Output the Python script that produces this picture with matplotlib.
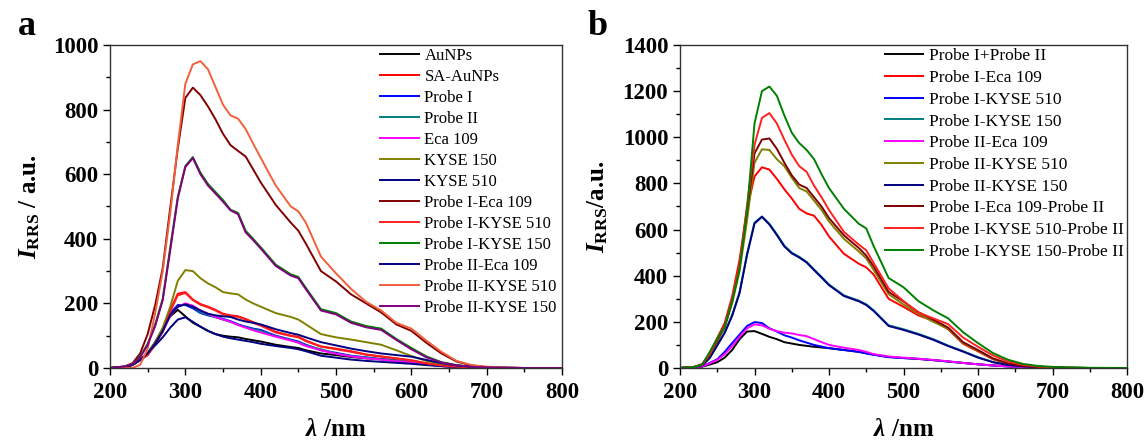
import numpy as np
import matplotlib
matplotlib.use('Agg')
import matplotlib.pyplot as plt
from matplotlib.ticker import MultipleLocator

plt.rcParams['font.family'] = ['Liberation Serif', 'DejaVu Serif']
plt.rcParams['mathtext.fontset'] = 'custom'
plt.rcParams['mathtext.rm'] = 'Liberation Serif:bold'
plt.rcParams['mathtext.it'] = 'Liberation Serif:italic:bold'
plt.rcParams['mathtext.bf'] = 'Liberation Serif:bold'

# wavelength grid (nm), shared by all spectra
wl = [200, 220, 230, 240, 250, 260, 270, 280, 290, 300, 310, 320, 330, 340, 350, 360, 370, 380, 390, 400,
      420, 440, 450, 460, 480, 500, 520, 540, 560, 580, 600, 620, 640, 660, 680, 700, 720, 750, 800]

# ---- panel a ----
a_AuNPs = [0, 3, 10, 25, 45, 80, 120, 160, 180, 160, 140, 128, 115, 105, 100, 97, 95, 90, 86, 82,
           72, 65, 62, 55, 45, 40, 34, 30, 27, 22, 17, 11, 6, 3, 2, 1, 0, 0, 0]
a_SA_AuNPs = [0, 3, 10, 25, 40, 75, 115, 179, 230, 235, 212, 198, 190, 180, 168, 163, 160, 152, 142, 133,
              112, 100, 97, 85, 67, 60, 52, 42, 36, 30, 24, 15, 8, 4, 2, 1, 0, 0, 0]
a_ProbeI = [0, 3, 10, 25, 45, 80, 120, 170, 195, 195, 185, 170, 163, 158, 152, 145, 135, 128, 122, 118,
            100, 88, 82, 72, 55, 47, 38, 33, 28, 24, 20, 13, 7, 4, 2, 1, 0, 0, 0]
a_ProbeII = [0, 3, 10, 24, 42, 76, 115, 165, 190, 198, 190, 172, 165, 157, 150, 143, 134, 126, 120, 115,
             98, 87, 80, 70, 58, 45, 37, 32, 27, 23, 19, 12, 7, 4, 2, 1, 0, 0, 0]
a_Eca109 = [0, 3, 10, 24, 42, 75, 112, 162, 190, 200, 193, 178, 168, 158, 150, 143, 133, 125, 117, 110,
            97, 85, 78, 68, 55, 44, 36, 30, 26, 21, 17, 11, 6, 3, 2, 1, 0, 0, 0]
a_KYSE150 = [0, 3, 10, 25, 46, 80, 125, 190, 270, 303, 300, 278, 262, 250, 235, 231, 228, 212, 200, 190,
             170, 158, 150, 135, 105, 95, 88, 80, 72, 55, 37, 22, 12, 6, 3, 1, 0, 0, 0]
a_KYSE510 = [0, 3, 10, 25, 45, 70, 95, 125, 150, 157, 143, 128, 115, 105, 97, 92, 88, 84, 80, 75,
             68, 62, 58, 52, 38, 32, 26, 22, 19, 16, 13, 9, 6, 3, 2, 1, 0, 0, 0]
a_PI_Eca109 = [0, 5, 15, 45, 105, 195, 310, 497, 680, 836, 868, 845, 810, 770, 725, 690, 672, 655, 615, 575,
               505, 450, 425, 385, 300, 268, 228, 200, 172, 135, 115, 78, 45, 20, 8, 3, 1, 0, 0]
a_PI_KYSE510 = [0, 3, 10, 25, 40, 75, 112, 175, 225, 232, 210, 196, 188, 178, 166, 161, 158, 150, 140, 131,
                110, 99, 95, 83, 66, 58, 50, 41, 35, 29, 23, 14, 8, 4, 2, 1, 0, 0, 0]
a_PI_KYSE150 = [0, 5, 12, 35, 75, 135, 215, 374, 530, 625, 653, 605, 570, 545, 520, 490, 480, 425, 400, 374,
                320, 290, 282, 248, 182, 170, 144, 130, 122, 90, 62, 36, 18, 9, 4, 2, 1, 0, 0]
a_PII_Eca109 = [0, 3, 10, 25, 45, 75, 115, 165, 190, 197, 190, 178, 168, 163, 160, 158, 150, 144, 140, 135,
                120, 108, 103, 95, 80, 70, 60, 52, 45, 40, 35, 25, 15, 8, 4, 2, 1, 0, 0]
a_PII_KYSE510 = [0, 0, 0, 10, 60, 170, 300, 480, 690, 880, 940, 950, 925, 870, 815, 782, 772, 740, 695, 651,
                 565, 500, 485, 450, 345, 293, 245, 205, 178, 140, 122, 85, 50, 22, 9, 4, 2, 0, 0]
a_PII_KYSE150 = [0, 5, 12, 33, 72, 130, 210, 365, 525, 622, 650, 600, 565, 540, 515, 488, 476, 420, 396, 370,
                 316, 286, 278, 244, 178, 166, 140, 126, 118, 87, 58, 33, 17, 8, 4, 2, 1, 0, 0]

a_series = [
    ('AuNPs', a_AuNPs, '#000000'),
    ('SA-AuNPs', a_SA_AuNPs, '#ff0000'),
    ('Probe I', a_ProbeI, '#0000ff'),
    ('Probe II', a_ProbeII, '#008080'),
    ('Eca 109', a_Eca109, '#ff00ff'),
    ('KYSE 150', a_KYSE150, '#808000'),
    ('KYSE 510', a_KYSE510, '#000080'),
    ('Probe I-Eca 109', a_PI_Eca109, '#800000'),
    ('Probe I-KYSE 510', a_PI_KYSE510, '#ff2020'),
    ('Probe I-KYSE 150', a_PI_KYSE150, '#008000'),
    ('Probe II-Eca 109', a_PII_Eca109, '#000080'),
    ('Probe II-KYSE 510', a_PII_KYSE510, '#f0603c'),
    ('Probe II-KYSE 150', a_PII_KYSE150, '#800080'),
]

# ---- panel b ----
b_PI_PII = [0, 3, 6, 15, 25, 45, 78, 125, 158, 160, 148, 135, 125, 112, 106, 100, 96, 92, 89, 86,
            78, 70, 64, 58, 48, 43, 39, 34, 28, 22, 16, 11, 7, 4, 2, 1, 0, 0, 0]
b_PI_Eca109 = [0, 5, 18, 65, 130, 195, 310, 470, 690, 830, 870, 860, 820, 775, 735, 690, 670, 660, 620, 570,
               495, 452, 436, 405, 300, 265, 228, 205, 168, 105, 72, 38, 18, 8, 4, 2, 1, 0, 0]
b_PI_KYSE510 = [0, 3, 8, 22, 38, 70, 108, 145, 182, 199, 195, 172, 158, 142, 132, 120, 110, 100, 93, 86,
                78, 70, 63, 57, 47, 43, 40, 34, 28, 22, 16, 11, 7, 4, 2, 1, 0, 0, 0]
b_PI_KYSE150 = [0, 5, 12, 45, 100, 155, 230, 330, 495, 630, 657, 625, 580, 530, 500, 482, 460, 427, 395, 362,
                315, 292, 276, 250, 185, 168, 148, 125, 97, 73, 47, 26, 14, 8, 4, 2, 1, 0, 0]
b_PII_Eca109 = [0, 3, 8, 20, 35, 60, 95, 135, 172, 189, 185, 170, 160, 153, 150, 143, 138, 125, 112, 100,
                88, 78, 70, 60, 50, 45, 40, 35, 29, 22, 16, 11, 7, 4, 2, 1, 0, 0, 0]
b_PII_KYSE510 = [0, 5, 15, 55, 115, 175, 280, 420, 640, 890, 948, 945, 905, 875, 825, 780, 765, 725, 685, 635,
                 560, 505, 475, 425, 320, 275, 235, 200, 170, 108, 75, 40, 19, 9, 4, 2, 1, 0, 0]
b_PII_KYSE150 = [0, 5, 12, 44, 98, 152, 226, 325, 490, 626, 655, 622, 576, 527, 497, 479, 457, 424, 392, 359,
                 312, 289, 273, 247, 182, 165, 145, 122, 95, 71, 45, 25, 13, 7, 3, 1, 0, 0, 0]
b_PI_Eca109_PII = [0, 5, 15, 60, 120, 180, 290, 440, 680, 930, 990, 995, 950, 890, 835, 795, 780, 740, 700, 650,
                   575, 520, 487, 440, 330, 288, 242, 210, 175, 112, 78, 42, 20, 10, 5, 2, 1, 0, 0]
b_PI_KYSE510_PII = [0, 5, 15, 60, 125, 185, 300, 450, 705, 967, 1084, 1105, 1060, 990, 925, 875, 850, 790, 740, 685,
                    590, 535, 510, 455, 345, 290, 240, 215, 190, 132, 92, 55, 28, 14, 6, 3, 1, 0, 0]
b_PI_KYSE150_PII = [0, 5, 15, 70, 128, 180, 290, 430, 680, 1060, 1200, 1220, 1180, 1095, 1020, 975, 945, 905, 840, 780,
                    690, 625, 605, 528, 390, 350, 290, 250, 215, 155, 108, 65, 36, 18, 9, 5, 3, 1, 0]

b_series = [
    ('Probe I+Probe II', b_PI_PII, '#000000'),
    ('Probe I-Eca 109', b_PI_Eca109, '#ff0000'),
    ('Probe I-KYSE 510', b_PI_KYSE510, '#0000ff'),
    ('Probe I-KYSE 150', b_PI_KYSE150, '#008080'),
    ('Probe II-Eca 109', b_PII_Eca109, '#ff00ff'),
    ('Probe II-KYSE 510', b_PII_KYSE510, '#808000'),
    ('Probe II-KYSE 150', b_PII_KYSE150, '#000080'),
    ('Probe I-Eca 109-Probe II', b_PI_Eca109_PII, '#800000'),
    ('Probe I-KYSE 510-Probe II', b_PI_KYSE510_PII, '#ff2020'),
    ('Probe I-KYSE 150-Probe II', b_PI_KYSE150_PII, '#008000'),
]

fig = plt.figure(figsize=(11.48, 4.4), dpi=100)
ax_a = fig.add_axes([110 / 1148, 72 / 440, 452 / 1148, 323 / 440])
ax_b = fig.add_axes([680 / 1148, 72 / 440, 447 / 1148, 323 / 440])


def style_axis(ax, ymax, ystep, ylabel, ypad):
    ax.set_xlim(200, 800)
    ax.set_ylim(0, ymax)
    ax.xaxis.set_major_locator(MultipleLocator(100))
    ax.xaxis.set_minor_locator(MultipleLocator(50))
    ax.yaxis.set_major_locator(MultipleLocator(ystep))
    ax.yaxis.set_minor_locator(MultipleLocator(ystep / 2))
    ax.tick_params(which='major', direction='out', length=5, width=1, labelsize=16.5)
    ax.tick_params(which='minor', direction='out', length=3, width=1)
    ax.tick_params(axis='x', pad=5)
    for lab in ax.get_xticklabels() + ax.get_yticklabels():
        lab.set_fontweight('bold')
    for sp in ax.spines.values():
        sp.set_linewidth(1.0)
        sp.set_color('#333333')
    ax.set_xlabel(r'$\lambda$ /nm', fontsize=18, fontweight='bold', labelpad=11)
    ax.set_ylabel(ylabel, fontsize=18, fontweight='bold', labelpad=ypad)


for name, vals, col in a_series:
    ax_a.plot(wl, vals, color=col, lw=1.4, label=name)
style_axis(ax_a, 1000, 200, r'$I_{\mathrm{RRS}}$ / a.u.', 8)
ax_a.legend(loc='upper left', bbox_to_anchor=(0.598, 0.99), frameon=False, fontsize=12,
            handlelength=2.3, handletextpad=0.35, labelspacing=0.3, borderpad=0, borderaxespad=0)

for name, vals, col in b_series:
    ax_b.plot(wl, vals, color=col, lw=1.4, label=name)
style_axis(ax_b, 1400, 200, r'$I_{\mathrm{RRS}}$/a.u.', 9)
ax_b.legend(loc='upper left', bbox_to_anchor=(0.458, 0.99), frameon=False, fontsize=12.5,
            handlelength=2.2, handletextpad=0.35, labelspacing=0.32, borderpad=0, borderaxespad=0)

fig.text(27 / 1148, 1 - 35 / 440, 'a', fontsize=26, fontweight='bold', ha='center', va='baseline')
fig.text(598 / 1148, 1 - 35 / 440, 'b', fontsize=26, fontweight='bold', ha='center', va='baseline')

fig.savefig('out.png', dpi=100)
